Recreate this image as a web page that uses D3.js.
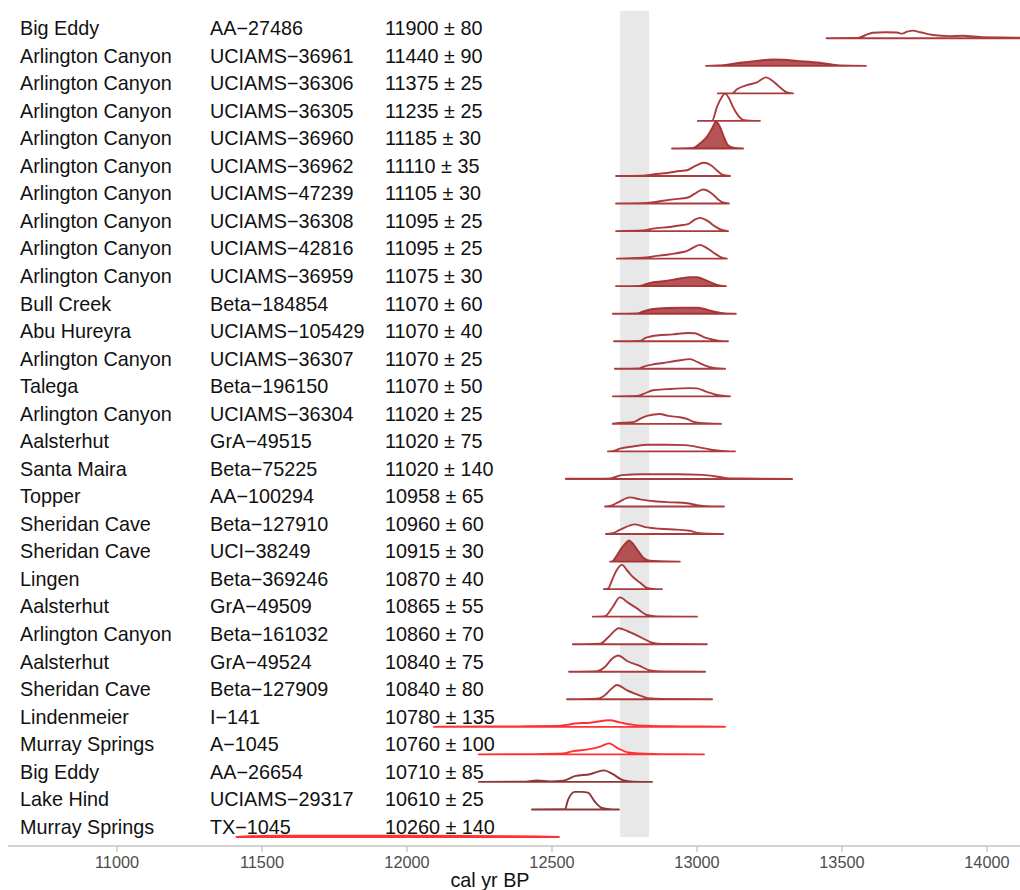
<!DOCTYPE html>
<html>
<head>
<meta charset="utf-8">
<script src="https://cdn.jsdelivr.net/npm/d3@7"></script>
<style>
  body { margin: 0; background: #fff; }
  svg { display: block; }
</style>
</head>
<body>
<svg id="chart" width="1020" height="890"></svg>
<script>
// Radiocarbon dates, one row per sample (top to bottom)
const sites = [
  "Big Eddy", "Arlington Canyon", "Arlington Canyon", "Arlington Canyon", "Arlington Canyon",
  "Arlington Canyon", "Arlington Canyon", "Arlington Canyon", "Arlington Canyon", "Arlington Canyon",
  "Bull Creek", "Abu Hureyra", "Arlington Canyon", "Talega", "Arlington Canyon",
  "Aalsterhut", "Santa Maira", "Topper", "Sheridan Cave", "Sheridan Cave",
  "Lingen", "Aalsterhut", "Arlington Canyon", "Aalsterhut", "Sheridan Cave",
  "Lindenmeier", "Murray Springs", "Big Eddy", "Lake Hind", "Murray Springs"
];
const labCodes = [
  "AA−27486", "UCIAMS−36961", "UCIAMS−36306", "UCIAMS−36305", "UCIAMS−36960",
  "UCIAMS−36962", "UCIAMS−47239", "UCIAMS−36308", "UCIAMS−42816", "UCIAMS−36959",
  "Beta−184854", "UCIAMS−105429", "UCIAMS−36307", "Beta−196150", "UCIAMS−36304",
  "GrA−49515", "Beta−75225", "AA−100294", "Beta−127910", "UCI−38249",
  "Beta−369246", "GrA−49509", "Beta−161032", "GrA−49524", "Beta−127909",
  "I−141", "A−1045", "AA−26654", "UCIAMS−29317", "TX−1045"
];
const rcAges = [
  11900, 11440, 11375, 11235, 11185, 11110, 11105, 11095, 11095, 11075,
  11070, 11070, 11070, 11070, 11020, 11020, 11020, 10958, 10960, 10915,
  10870, 10865, 10860, 10840, 10840, 10780, 10760, 10710, 10610, 10260
];
const rcErrors = [
  80, 90, 25, 25, 30, 35, 30, 25, 25, 30,
  60, 40, 25, 50, 25, 75, 140, 65, 60, 30,
  40, 55, 70, 75, 80, 135, 100, 85, 25, 140
];
// line colour class of each row
const tones = [
  "mid", "mid", "mid", "mid", "mid", "mid", "mid", "mid", "mid", "mid",
  "mid", "mid", "mid", "mid", "mid", "mid", "mid", "mid", "mid", "mid",
  "mid", "mid", "mid", "mid", "mid", "bright", "bright", "deep", "deep", "bright"
];
// shaded ridges
const filled = [
  false, true, false, false, true, false, false, false, false, true,
  true, false, false, false, false, false, false, false, false, true,
  false, false, false, false, false, false, false, false, false, false
];
// calibrated probability: [cal yr BP, density as % of the row height]
const densities = [
  [[13447,0],[13555,1],[13580,11],[13607,20],[13650,22],[13690,21],[13707,17],[13725,24],[13745,28],[13770,22],[13814,12],[13870,8],[13917,9],[13976,5],[14050,3],[14114,2],[14250,0]],
  [[13031,0],[13069,1],[13148,11],[13205,18],[13262,23],[13300,22],[13345,18],[13424,11],[13469,4],[13493,1],[13583,0]],
  [[13072,0],[13121,0],[13138,15],[13172,30],[13207,40],[13238,58],[13259,47],[13286,22],[13310,4],[13331,0]],
  [[13003,0],[13052,0],[13069,51],[13086,87],[13097,99],[13110,83],[13124,51],[13141,21],[13159,4],[13183,1],[13217,0]],
  [[12914,0],[12986,2],[13010,18],[13034,42],[13052,73],[13066,97],[13079,79],[13093,42],[13107,12],[13131,2],[13159,0]],
  [[12721,0],[12814,1],[12848,6],[12897,11],[12941,18],[12966,21],[12993,36],[13024,48],[13052,36],[13072,17],[13090,4],[13114,0]],
  [[12721,0],[12828,2],[12862,7],[12917,15],[12969,22],[12993,36],[13021,51],[13052,36],[13072,16],[13090,4],[13110,0]],
  [[12721,0],[12814,2],[12848,9],[12907,15],[12952,22],[12969,25],[12990,40],[13010,48],[13038,36],[13062,17],[13086,4],[13107,0]],
  [[12724,0],[12814,3],[12862,10],[12907,16],[12952,24],[12966,28],[12990,42],[13010,50],[13038,36],[13062,18],[13086,4],[13103,0]],
  [[12721,0],[12803,1],[12838,12],[12883,18],[12931,26],[12960,31],[12976,33],[13000,33],[13034,20],[13069,5],[13100,0]],
  [[12710,0],[12793,1],[12814,8],[12848,17],[12897,21],[12952,22],[13000,22],[13034,15],[13062,7],[13090,2],[13134,0]],
  [[12714,0],[12803,1],[12821,11],[12862,21],[12917,25],[12969,30],[12993,29],[13028,13],[13055,6],[13079,1],[13107,0]],
  [[12717,0],[12797,1],[12814,7],[12845,15],[12883,21],[12931,29],[12976,35],[13003,24],[13034,10],[13055,4],[13079,1],[13097,0]],
  [[12710,0],[12793,1],[12814,8],[12848,22],[12897,26],[12976,30],[13000,29],[13034,16],[13069,5],[13097,1],[13114,0]],
  [[12710,1],[12745,4],[12769,5],[12786,8],[12803,18],[12831,30],[12872,36],[12900,29],[12941,24],[12966,18],[12986,8],[13010,3],[13055,1],[13083,0]],
  [[12693,0],[12707,1],[12734,10],[12779,18],[12831,24],[12897,24],[12959,23],[13021,12],[13069,4],[13103,1],[13131,0]],
  [[12548,1],[12666,1],[12700,2],[12741,14],[12814,17],[12931,17],[13021,15],[13079,7],[13114,2],[13217,1],[13328,0]],
  [[12683,0],[12700,2],[12728,15],[12769,33],[12803,26],[12862,18],[12917,15],[12966,12],[13000,5],[13034,1],[13093,0]],
  [[12686,0],[12710,3],[12734,15],[12786,35],[12828,24],[12872,19],[12931,16],[12976,12],[13003,4],[13045,1],[13090,0]],
  [[12700,0],[12707,1],[12724,23],[12741,51],[12759,72],[12766,77],[12779,65],[12797,39],[12814,15],[12838,3],[12872,1],[12941,0]],
  [[12679,0],[12693,2],[12710,40],[12724,70],[12741,88],[12762,64],[12779,44],[12803,24],[12828,4],[12848,1],[12879,0]],
  [[12641,0],[12683,2],[12710,36],[12734,70],[12762,51],[12793,30],[12828,6],[12862,1],[13000,0]],
  [[12572,0],[12666,2],[12693,24],[12731,58],[12759,48],[12803,27],[12845,6],[12883,1],[13034,0]],
  [[12559,0],[12655,2],[12683,18],[12707,47],[12728,59],[12759,39],[12803,21],[12838,5],[12883,1],[13028,0]],
  [[12552,0],[12655,2],[12679,12],[12707,40],[12724,52],[12759,32],[12797,16],[12831,4],[12883,1],[13052,0]],
  [[12093,0],[12300,1],[12414,2],[12517,3],[12552,7],[12579,12],[12631,15],[12700,24],[12734,16],[12779,7],[12828,4],[12897,2],[13010,1],[13097,0]],
  [[12248,0],[12434,1],[12538,3],[12572,12],[12624,18],[12666,28],[12697,40],[12728,22],[12762,7],[12803,3],[12872,1],[13024,0]],
  [[12248,0],[12400,1],[12448,5],[12493,2],[12538,4],[12579,21],[12631,28],[12679,42],[12710,28],[12745,6],[12779,1],[12845,0]],
  [[12431,0],[12545,1],[12555,34],[12579,64],[12603,64],[12624,61],[12648,28],[12672,6],[12700,1],[12731,0]],
  [[11412,0],[11440,2],[11500,4],[11600,5],[11800,5],[12000,5],[12200,4],[12350,3],[12450,2],[12524,0]]
];
const xTicks = [11000, 11500, 12000, 12500, 13000, 13500, 14000];
// shaded interval, cal yr BP
const band = [12735, 12835];
const axisTitle = "cal yr BP";

const toneColor = { mid: "#a32b2d", deep: "#862626", bright: "#ff1f1f" };

const svg = d3.select("#chart");
const panel = { left: 8, right: 1020, axisY: 846 };

const x = d3.scaleLinear().domain([10624, 14114]).range([panel.left, panel.right]);
const yBase = d3.scaleLinear().domain([0, sites.length - 1]).range([38.3, 837]);
const step = yBase(1) - yBase(0);
const hScale = d3.scaleLinear().domain([0, 100]).range([0, step]);

svg.append("defs").append("clipPath").attr("id", "panel-clip")
  .append("rect").attr("x", panel.left).attr("y", 0)
  .attr("width", panel.right - panel.left).attr("height", panel.axisY);

// shaded interval behind the ridges
svg.append("rect")
  .attr("x", x(band[0])).attr("width", x(band[1]) - x(band[0]))
  .attr("y", yBase(0) - step).attr("height", yBase(sites.length - 1) - yBase(0) + step)
  .attr("fill", "#e8e8e8");

// text columns
const font = "'Liberation Sans', Arial, Helvetica, sans-serif";
const labels = svg.append("g").attr("font-family", font).attr("font-size", 19.8).attr("fill", "#111");
sites.forEach((s, i) => {
  const yy = yBase(i) - 3.2;
  labels.append("text").attr("x", 20).attr("y", yy).text(s);
  labels.append("text").attr("x", 210).attr("y", yy).text(labCodes[i]);
  labels.append("text").attr("x", 385).attr("y", yy).text(`${rcAges[i]} ± ${rcErrors[i]}`);
});

// ridges
const ridges = svg.append("g").attr("clip-path", "url(#panel-clip)");
densities.forEach((pts, i) => {
  const b = yBase(i);
  const area = d3.area()
    .x(d => x(d[0]))
    .y0(b)
    .y1(d => b - hScale(d[1]))
    .curve(d3.curveMonotoneX);
  const c = toneColor[tones[i]];
  ridges.append("path")
    .attr("d", area(pts))
    .attr("fill", filled[i] ? c : "#ffffff")
    .attr("fill-opacity", filled[i] ? 0.8 : 1)
    .attr("stroke", c)
    .attr("stroke-opacity", 0.92)
    .attr("stroke-width", 1.9)
    .attr("stroke-linejoin", "round");
});

// x axis
const axis = svg.append("g").attr("transform", `translate(0,${panel.axisY})`);
axis.append("line").attr("x1", panel.left).attr("x2", panel.right)
  .attr("stroke", "#c4c4c4").attr("stroke-width", 1.6);
axis.selectAll("line.tick").data(xTicks).join("line")
  .attr("class", "tick")
  .attr("x1", d => x(d)).attr("x2", d => x(d))
  .attr("y1", 0).attr("y2", 6)
  .attr("stroke", "#c4c4c4").attr("stroke-width", 1.4);
axis.selectAll("text").data(xTicks).join("text")
  .attr("x", d => x(d)).attr("y", 22)
  .attr("text-anchor", "middle")
  .attr("font-family", font).attr("font-size", 16.3).attr("fill", "#4d4d4d")
  .text(d => d);

svg.append("text")
  .attr("x", 490).attr("y", 887)
  .attr("text-anchor", "middle")
  .attr("font-family", font).attr("font-size", 19.8).attr("fill", "#111")
  .text(axisTitle);
</script>
</body>
</html>
